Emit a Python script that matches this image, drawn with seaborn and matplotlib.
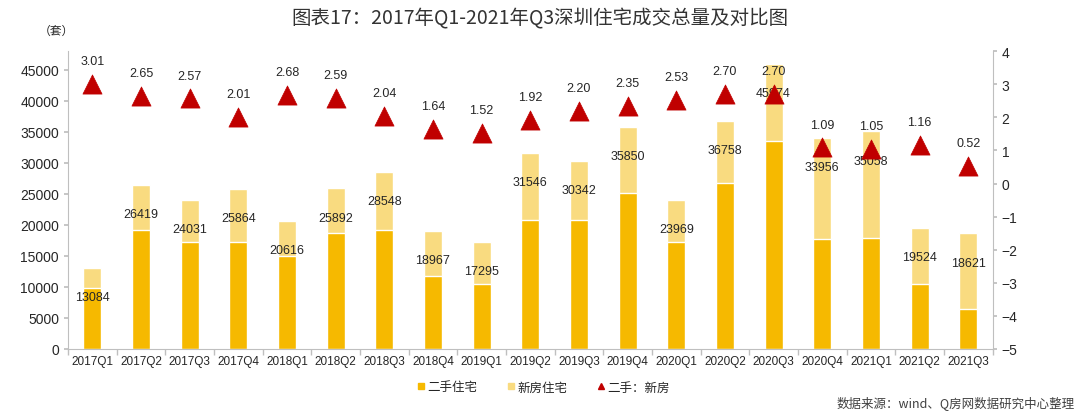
import matplotlib
matplotlib.use("Agg")
import matplotlib.pyplot as plt
from matplotlib.lines import Line2D
from matplotlib.ticker import FixedLocator
import seaborn as sns
import pandas as pd

quarters = ["2017Q1", "2017Q2", "2017Q3", "2017Q4", "2018Q1", "2018Q2", "2018Q3", "2018Q4",
            "2019Q1", "2019Q2", "2019Q3", "2019Q4", "2020Q1", "2020Q2", "2020Q3", "2020Q4",
            "2021Q1", "2021Q2", "2021Q3"]
total = [13084, 26419, 24031, 25864, 20616, 25892, 28548, 18967, 17295, 31546,
         30342, 35850, 23969, 36758, 45974, 33956, 35058, 19524, 18621]
second_hand = [9821, 19181, 17300, 17271, 15014, 18680, 19157, 11782, 10432, 20743,
               20860, 25148, 17179, 26823, 33549, 17709, 17956, 10485, 6370]
new_home = [3263, 7238, 6731, 8593, 5602, 7212, 9391, 7185, 6863, 10803,
            9482, 10702, 6790, 9935, 12425, 16247, 17102, 9039, 12251]
ratio = [3.01, 2.65, 2.57, 2.01, 2.68, 2.59, 2.04, 1.64, 1.52, 1.92,
         2.20, 2.35, 2.53, 2.70, 2.70, 1.09, 1.05, 1.16, 0.52]

df = pd.DataFrame({"quarter": quarters, "total": total, "second": second_hand,
                   "new": new_home, "ratio": ratio})

sns.set_theme(style="white")
plt.rcParams["font.family"] = ["Liberation Sans", "Noto Sans CJK SC", "DejaVu Sans"]
plt.rcParams["axes.unicode_minus"] = True

DARK = "#F6B900"
LIGHT = "#F9DB80"
RED = "#C00000"
GRID = "#BFBFBF"
TXT = "#262626"

fig = plt.figure(figsize=(10.8, 4.14), dpi=100)
ax = fig.add_axes([0.063, 0.1546, 0.856, 0.7194])

sns.barplot(data=df, x="quarter", y="total", color=LIGHT, width=0.37, ax=ax,
            saturation=1, order=quarters)
sns.barplot(data=df, x="quarter", y="second", color=DARK, width=0.37, ax=ax,
            saturation=1, order=quarters)

ax.set_xlim(-0.5, len(quarters) - 0.5)
ax.set_ylim(0, 48000)
ax.set_yticks(range(0, 45001, 5000))
ax.set_xlabel("")
ax.set_ylabel("")
ax.tick_params(axis="y", labelsize=10, colors=TXT, length=3, color=GRID, direction="out", left=True)
ax.tick_params(axis="x", labelsize=8.5, colors=TXT, length=0, pad=4)
ax.xaxis.set_minor_locator(FixedLocator([i - 0.5 for i in range(len(quarters) + 1)]))
ax.tick_params(axis="x", which="minor", length=4, color=GRID, bottom=True)
for s in ["top", "right"]:
    ax.spines[s].set_visible(False)
for s in ["left", "bottom"]:
    ax.spines[s].set_color(GRID)
    ax.spines[s].set_linewidth(0.8)

for i, t in enumerate(total):
    ax.annotate(f"{t}", xy=(i, t), xytext=(0, -21), textcoords="offset points",
                ha="center", va="center", fontsize=9, color=TXT)

ax2 = ax.twinx()
sns.scatterplot(data=df, x="quarter", y="ratio", marker="^", s=190, color=RED,
                edgecolor=RED, linewidth=0.5, ax=ax2, zorder=5)
ax2.set_ylim(-5, 4)
ax2.set_yticks(range(-5, 5))
ax2.set_ylabel("")
ax2.set_xlabel("")
ax2.set_xlim(-0.5, len(quarters) - 0.5)
ax2.tick_params(axis="y", labelsize=10, colors=TXT, length=3, color=GRID, right=True, direction="out")
for s in ["top", "left", "bottom"]:
    ax2.spines[s].set_visible(False)
ax2.spines["right"].set_color(GRID)
ax2.spines["right"].set_linewidth(0.8)

for i, r in enumerate(ratio):
    ax2.annotate(f"{r:.2f}", xy=(i, r), xytext=(0, 16.5), textcoords="offset points",
                 ha="center", va="center", fontsize=9, color=TXT)

fig.text(0.5, 0.955, "图表17：2017年Q1-2021年Q3深圳住宅成交总量及对比图",
         ha="center", va="center", fontsize=14, color="#333333",
         family=["Noto Sans CJK SC", "DejaVu Sans"])
fig.text(0.052, 0.925, "（套）", ha="center", va="center", fontsize=8.5, color=TXT,
         family=["Noto Sans CJK SC", "DejaVu Sans"])

handles = [
    Line2D([], [], marker="s", linestyle="none", markersize=5, color=DARK),
    Line2D([], [], marker="s", linestyle="none", markersize=5, color=LIGHT),
    Line2D([], [], marker="^", linestyle="none", markersize=5, color=RED),
]
labels = ["二手住宅", "新房住宅", "二手：新房"]
leg = fig.legend(handles, labels, loc="center", bbox_to_anchor=(0.503, 0.063), ncol=3,
                 frameon=False, handletextpad=0.1, columnspacing=2.3,
                 handlelength=0.8, prop={"family": ["Noto Sans CJK SC", "DejaVu Sans"], "size": 9})
for t in leg.get_texts():
    t.set_color(TXT)

fig.text(0.995, 0.027, "数据来源：wind、Q房网数据研究中心整理", ha="right", va="center",
         fontsize=9, color="#404040", family=["Noto Sans CJK SC", "DejaVu Sans"])

fig.savefig("out.png", dpi=100)
